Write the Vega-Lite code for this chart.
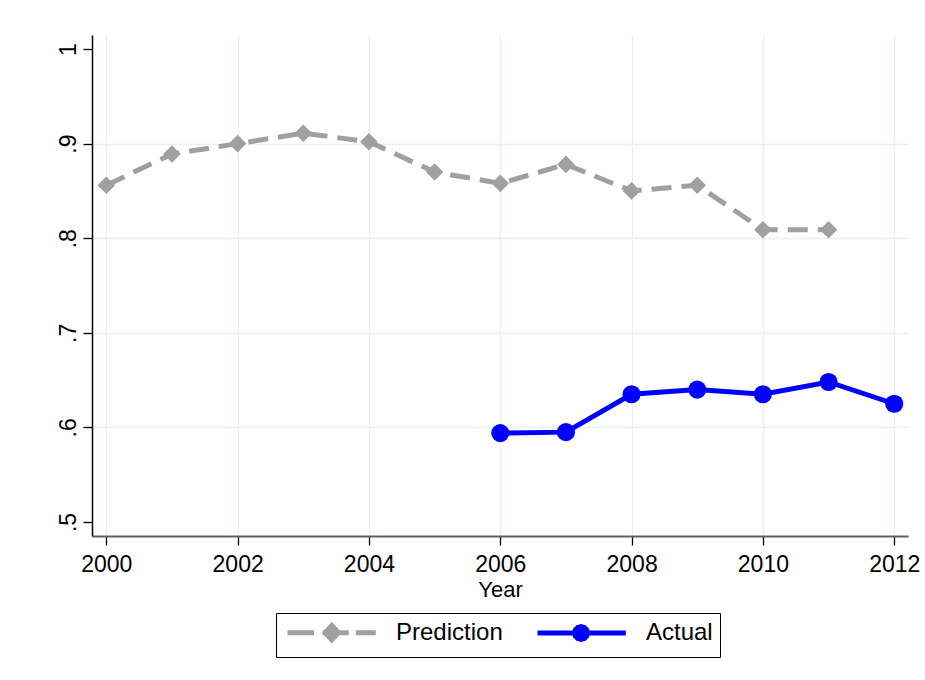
{
  "$schema": "https://vega.github.io/schema/vega-lite/v6.json",
  "width": 816,
  "height": 501,
  "autosize": {"type": "none"},
  "padding": {"left": 92, "top": 35, "right": 17, "bottom": 144},
  "background": "white",
  "config": {
    "font": "Liberation Sans",
    "view": {"stroke": null},
    "axis": {"labelFont": "Liberation Sans", "titleFont": "Liberation Sans", "labelColor": "black", "titleColor": "black", "labelFontSize": 23, "titleFontSize": 22, "titleFontWeight": "normal", "tickColor": "black", "tickSize": 9, "tickWidth": 1.3, "gridColor": "#e8f0f2", "gridWidth": 1.3}
  },
  "data": {
    "values": [
      {"year": 2000, "value": 0.856, "series": "Prediction"},
      {"year": 2001, "value": 0.889, "series": "Prediction"},
      {"year": 2002, "value": 0.900, "series": "Prediction"},
      {"year": 2003, "value": 0.911, "series": "Prediction"},
      {"year": 2004, "value": 0.902, "series": "Prediction"},
      {"year": 2005, "value": 0.870, "series": "Prediction"},
      {"year": 2006, "value": 0.858, "series": "Prediction"},
      {"year": 2007, "value": 0.878, "series": "Prediction"},
      {"year": 2008, "value": 0.850, "series": "Prediction"},
      {"year": 2009, "value": 0.856, "series": "Prediction"},
      {"year": 2010, "value": 0.809, "series": "Prediction"},
      {"year": 2011, "value": 0.809, "series": "Prediction"},
      {"year": 2006, "value": 0.594, "series": "Actual"},
      {"year": 2007, "value": 0.595, "series": "Actual"},
      {"year": 2008, "value": 0.635, "series": "Actual"},
      {"year": 2009, "value": 0.640, "series": "Actual"},
      {"year": 2010, "value": 0.635, "series": "Actual"},
      {"year": 2011, "value": 0.648, "series": "Actual"},
      {"year": 2012, "value": 0.625, "series": "Actual"}
    ]
  },
  "encoding": {
    "x": {
      "field": "year", "type": "quantitative",
      "scale": {"domain": [1999.782, 2012.21], "nice": false, "zero": false},
      "axis": {"values": [2000, 2002, 2004, 2006, 2008, 2010, 2012], "format": "d", "title": "Year", "titlePadding": 3, "labelPadding": 8, "labelFontSize": 23, "titleFontSize": 22, "domainColor": "#606060", "domainWidth": 2.2, "labelFlush": false}
    },
    "y": {
      "field": "value", "type": "quantitative",
      "scale": {"domain": [0.4852, 1.0148], "nice": false, "zero": false},
      "axis": {"values": [0.5, 0.6, 0.7, 0.8, 0.9, 1], "title": null, "labelAngle": -90, "labelPadding": 3, "labelFontSize": 23, "domainColor": "black", "domainWidth": 1.5,
        "labelExpr": "datum.value == 1 ? '1' : replace(format(datum.value, '.1f'), '0.', '.')",
        "gridOpacity": {"condition": {"test": "datum.value <= 0.5 || datum.value >= 1", "value": 0}, "value": 1}}
    }
  },
  "layer": [
    {
      "transform": [{"filter": "false"}],
      "mark": {"type": "point", "filled": true, "strokeWidth": 5, "opacity": 1},
      "encoding": {
        "fill": {"field": "series", "type": "nominal", "scale": {"domain": ["Prediction", "Actual"], "range": ["#a0a0a0", "#0000ff"]},
          "legend": {
            "title": null, "orient": "none", "legendX": 184, "legendY": 578, "direction": "horizontal", "columns": 2,
            "strokeColor": "black", "padding": 7, "columnPadding": 24,
            "labelFont": "Liberation Sans", "labelFontSize": 24, "labelColor": "black", "labelOffset": 88,
            "symbolSize": 400, "symbolStrokeWidth": 5, "symbolOpacity": 1
          }},
        "stroke": {"field": "series", "type": "nominal", "scale": {"domain": ["Prediction", "Actual"], "range": ["#a0a0a0", "#0000ff"]}},
        "shape": {"field": "series", "type": "nominal", "scale": {"domain": ["Prediction", "Actual"], "range": ["M-0.8,0H1.86M2.73,0H5.33M6.03,0H8.03M3.63,-0.72L4.3,0L3.63,0.72L2.96,0Z", "M-0.8,0H8.03M4.2,0L4.113,0.325L3.875,0.563L3.55,0.65L3.225,0.563L2.987,0.325L2.9,0L2.987,-0.325L3.225,-0.563L3.55,-0.65L3.875,-0.563L4.113,-0.325Z"]}}
      }
    },
    {
      "transform": [{"filter": "datum.series == 'Prediction'"}],
      "mark": {"type": "line", "strokeWidth": 5, "color": "#a0a0a0", "strokeDash": [20, 10]}
    },
    {
      "transform": [{"filter": "datum.series == 'Actual'"}],
      "mark": {"type": "line", "strokeWidth": 5, "color": "#0000ff"}
    },
    {
      "transform": [{"filter": "datum.series == 'Prediction'"}],
      "mark": {"type": "point", "filled": true, "opacity": 1, "size": 310, "shape": "diamond", "color": "#a0a0a0"}
    },
    {
      "transform": [{"filter": "datum.series == 'Actual'"}],
      "mark": {"type": "point", "filled": true, "opacity": 1, "size": 330, "shape": "circle", "color": "#0000ff"}
    }
  ]
}
